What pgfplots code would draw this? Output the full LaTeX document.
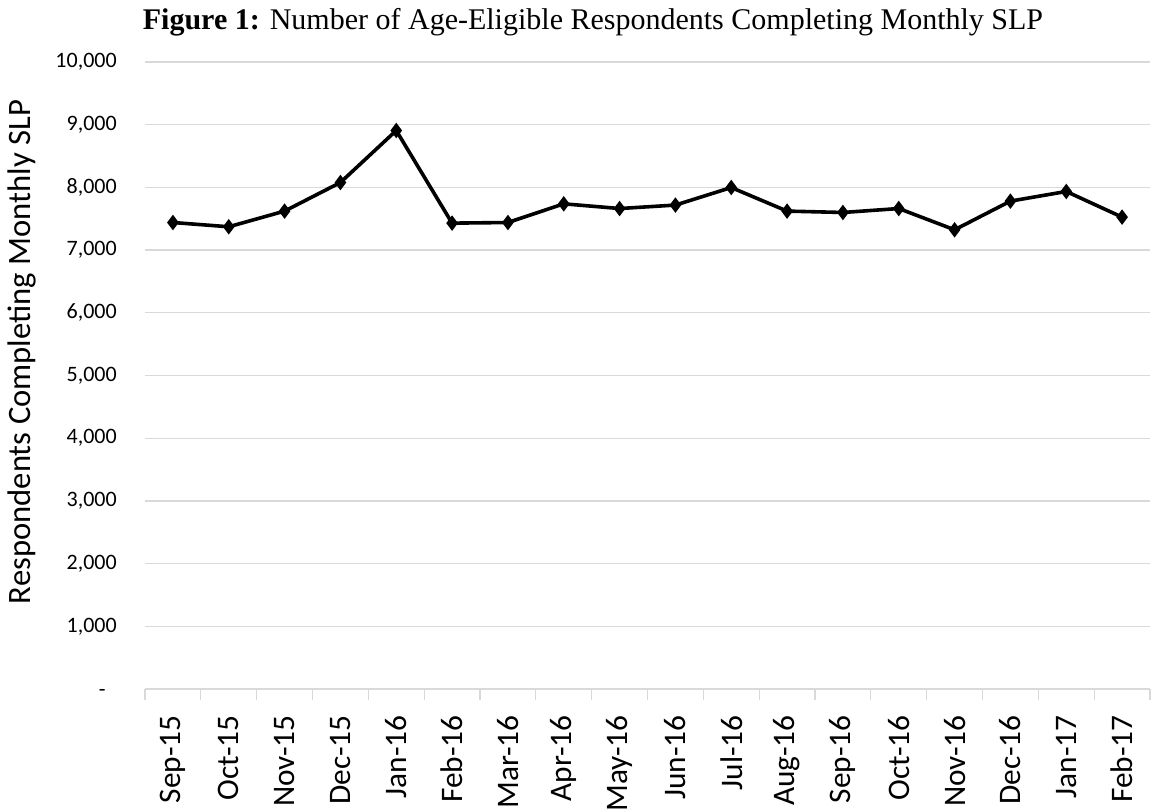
\documentclass[border=0pt]{standalone}
\usepackage{fontspec}
\setmainfont{Carlito}
\newfontfamily\timesfont{Liberation Serif}
\usepackage{pgfplots}
\pgfplotsset{compat=1.18}
\definecolor{gridgray}{HTML}{D9D9D9}
\begin{document}
\begin{tikzpicture}
\begin{axis}[
  at={(0,0)}, anchor=south west,
  scale only axis,
  width=753.75pt, height=470.25pt,
  xmin=-0.5, xmax=17.5,
  ymin=0, ymax=10000,
  scaled y ticks=false,
  axis line style={draw=none},
  tick pos=left,
  ytick={0,1000,...,10000},
  yticklabels={{-\phantom{0}},{1,000},{2,000},{3,000},{4,000},{5,000},{6,000},{7,000},{8,000},{9,000},{10,000}},
  ymajorgrids, major grid style={gridgray, line width=0.9pt},
  xtick={0,...,17},
  xticklabels={Sep-15,Oct-15,Nov-15,Dec-15,Jan-16,Feb-16,Mar-16,Apr-16,May-16,Jun-16,Jul-16,Aug-16,Sep-16,Oct-16,Nov-16,Dec-16,Jan-17,Feb-17},
  minor xtick={-0.5,0.5,...,17.5},
  major tick length=0pt,
  minor tick length=8.25pt,
  tick align=outside,
  minor tick style={gridgray, line width=0.9pt},
  xticklabel style={rotate=90, anchor=east, inner sep=0pt, font=\fontsize{23.5}{25}\selectfont},
  yticklabel style={anchor=east, inner sep=0pt, font=\fontsize{16.5}{18}\selectfont},
  xticklabel shift=19.5pt,
  yticklabel shift=21pt,
  clip=false,
]
\addplot[black, line width=2.7pt, mark=diamond*, mark size=3.6pt, mark options={solid}] coordinates {
(0,7440) (1,7372) (2,7622) (3,8078) (4,8907) (5,7430) (6,7440) (7,7738) (8,7663)
(9,7718) (10,7998) (11,7622) (12,7600) (13,7663) (14,7324) (15,7781) (16,7935) (17,7526)
};
\end{axis}
\node[rotate=90, font=\fontsize{24.5}{27}\selectfont] at (-92.25pt,252.75pt) {Respondents Completing Monthly SLP};
\node[font=\timesfont\fontsize{22.5}{26}\selectfont] at (336pt,500.25pt) {\textbf{Figure 1:} Number of Age-Eligible Respondents Completing Monthly SLP};
\useasboundingbox (-108.75pt,-88.5pt) rectangle (762pt,516.75pt);
\end{tikzpicture}
\end{document}
